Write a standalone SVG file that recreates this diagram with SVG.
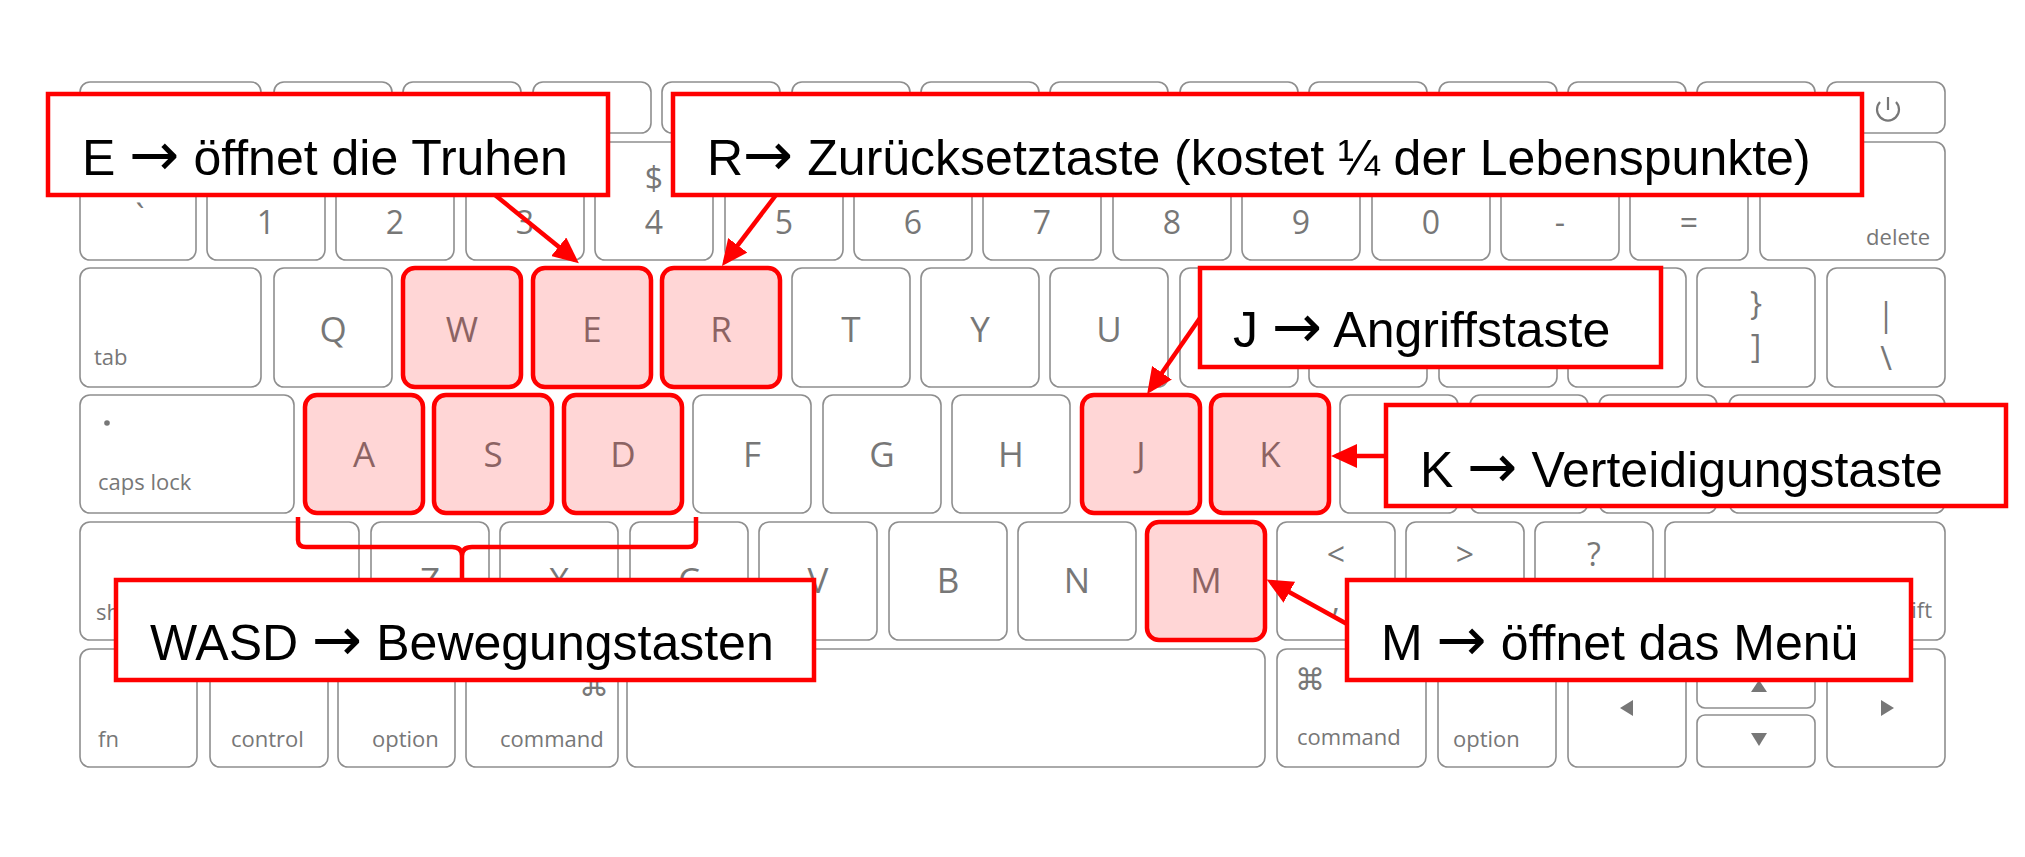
<svg xmlns="http://www.w3.org/2000/svg" width="2025" height="857" viewBox="0 0 2025 857">
<defs>
<style>
.k{fill:#fff;stroke:#8e8e8e;stroke-width:1.6}
.h{fill:#ff0000;fill-opacity:0.16;stroke:#ff0000;stroke-width:4.5}
.l{font-family:"Open Sans","Noto Sans",sans-serif;font-size:35px;fill:#777;text-anchor:middle}
.d{font-family:"Open Sans","Noto Sans",sans-serif;font-size:32px;fill:#777;text-anchor:middle}
.s{font-family:"Open Sans","Noto Sans",sans-serif;font-size:22px;fill:#777}
.cmd{font-family:"DejaVu Sans",sans-serif;font-size:30px;fill:#777;text-anchor:middle}
.box{fill:#fff;stroke:#ff0000;stroke-width:4.5}
.t{font-family:"Liberation Sans",Arial,sans-serif;font-size:50px;fill:#000}
.ar{font-family:"DejaVu Sans",sans-serif;font-size:60px}
.c{fill:none;stroke:#ff0000;stroke-width:4.5}
.tri{fill:#777}
</style>
<marker id="ah" viewBox="0 0 26 24" refX="21" refY="12" markerWidth="26" markerHeight="24" markerUnits="userSpaceOnUse" orient="auto">
<path d="M0,0 L26,12 L0,24 z" fill="#ff0000"/>
</marker>
</defs>
<rect width="2025" height="857" fill="#fff"/>

<g id="keyboard">
<!-- function row -->
<rect class="k" x="80" y="82" width="181" height="51" rx="10"/>
<rect class="k" x="274" y="82" width="118" height="51" rx="10"/>
<rect class="k" x="403" y="82" width="118" height="51" rx="10"/>
<rect class="k" x="533" y="82" width="118" height="51" rx="10"/>
<rect class="k" x="662" y="82" width="118" height="51" rx="10"/>
<rect class="k" x="792" y="82" width="118" height="51" rx="10"/>
<rect class="k" x="921" y="82" width="118" height="51" rx="10"/>
<rect class="k" x="1050" y="82" width="118" height="51" rx="10"/>
<rect class="k" x="1180" y="82" width="118" height="51" rx="10"/>
<rect class="k" x="1309" y="82" width="118" height="51" rx="10"/>
<rect class="k" x="1439" y="82" width="118" height="51" rx="10"/>
<rect class="k" x="1568" y="82" width="118" height="51" rx="10"/>
<rect class="k" x="1697" y="82" width="118" height="51" rx="10"/>
<rect class="k" x="1827" y="82" width="118" height="51" rx="10"/>
<path d="M1880,102 A11,11 0 1,0 1896,102 M1888,97 L1888,110" fill="none" stroke="#777" stroke-width="2.2"/>

<!-- number row -->
<rect class="k" x="80" y="142" width="116" height="118" rx="10"/>
<rect class="k" x="207" y="142" width="118" height="118" rx="10"/>
<rect class="k" x="336" y="142" width="118" height="118" rx="10"/>
<rect class="k" x="466" y="142" width="118" height="118" rx="10"/>
<rect class="k" x="595" y="142" width="118" height="118" rx="10"/>
<rect class="k" x="725" y="142" width="118" height="118" rx="10"/>
<rect class="k" x="854" y="142" width="118" height="118" rx="10"/>
<rect class="k" x="983" y="142" width="118" height="118" rx="10"/>
<rect class="k" x="1113" y="142" width="118" height="118" rx="10"/>
<rect class="k" x="1242" y="142" width="118" height="118" rx="10"/>
<rect class="k" x="1372" y="142" width="118" height="118" rx="10"/>
<rect class="k" x="1501" y="142" width="118" height="118" rx="10"/>
<rect class="k" x="1630" y="142" width="118" height="118" rx="10"/>
<rect class="k" x="1760" y="142" width="185" height="118" rx="10"/>
<text class="d" x="140" y="228">`</text>
<text class="d" x="266" y="234">1</text>
<text class="d" x="395" y="234">2</text>
<text class="d" x="525" y="234">3</text>
<text class="d" x="654" y="190">$</text>
<text class="d" x="654" y="234">4</text>
<text class="d" x="784" y="234">5</text>
<text class="d" x="913" y="234">6</text>
<text class="d" x="1042" y="234">7</text>
<text class="d" x="1172" y="234">8</text>
<text class="d" x="1301" y="234">9</text>
<text class="d" x="1431" y="234">0</text>
<text class="d" x="1560" y="234">-</text>
<text class="d" x="1689" y="234">=</text>
<text class="s" x="1930" y="245" text-anchor="end">delete</text>

<!-- qwerty row -->
<rect class="k" x="80" y="268" width="181" height="119" rx="10"/>
<rect class="k" x="274" y="268" width="118" height="119" rx="10"/>
<rect class="k" x="403" y="268" width="118" height="119" rx="10"/>
<rect class="k" x="533" y="268" width="118" height="119" rx="10"/>
<rect class="k" x="662" y="268" width="118" height="119" rx="10"/>
<rect class="k" x="792" y="268" width="118" height="119" rx="10"/>
<rect class="k" x="921" y="268" width="118" height="119" rx="10"/>
<rect class="k" x="1050" y="268" width="118" height="119" rx="10"/>
<rect class="k" x="1180" y="268" width="118" height="119" rx="10"/>
<rect class="k" x="1309" y="268" width="118" height="119" rx="10"/>
<rect class="k" x="1439" y="268" width="118" height="119" rx="10"/>
<rect class="k" x="1568" y="268" width="118" height="119" rx="10"/>
<rect class="k" x="1697" y="268" width="118" height="119" rx="10"/>
<rect class="k" x="1827" y="268" width="118" height="119" rx="10"/>
<text class="s" x="94" y="365">tab</text>
<text class="l" x="333" y="342">Q</text>
<text class="l" x="462" y="342">W</text>
<text class="l" x="592" y="342">E</text>
<text class="l" x="721" y="342">R</text>
<text class="l" x="851" y="342">T</text>
<text class="l" x="980" y="342">Y</text>
<text class="l" x="1109" y="342">U</text>
<text class="d" x="1756" y="315">}</text>
<text class="d" x="1756" y="358">]</text>
<text class="d" x="1886" y="326">|</text>
<text class="d" x="1886" y="370">\</text>

<!-- asdf row -->
<rect class="k" x="80" y="395" width="214" height="118" rx="10"/>
<rect class="k" x="305" y="395" width="118" height="118" rx="10"/>
<rect class="k" x="434" y="395" width="118" height="118" rx="10"/>
<rect class="k" x="564" y="395" width="118" height="118" rx="10"/>
<rect class="k" x="693" y="395" width="118" height="118" rx="10"/>
<rect class="k" x="823" y="395" width="118" height="118" rx="10"/>
<rect class="k" x="952" y="395" width="118" height="118" rx="10"/>
<rect class="k" x="1082" y="395" width="118" height="118" rx="10"/>
<rect class="k" x="1211" y="395" width="118" height="118" rx="10"/>
<rect class="k" x="1340" y="395" width="118" height="118" rx="10"/>
<rect class="k" x="1470" y="395" width="118" height="118" rx="10"/>
<rect class="k" x="1599" y="395" width="118" height="118" rx="10"/>
<rect class="k" x="1729" y="395" width="216" height="118" rx="10"/>
<circle cx="107" cy="423" r="2.8" fill="#777"/>
<text class="s" x="98" y="490">caps lock</text>
<text class="l" x="364" y="467">A</text>
<text class="l" x="493" y="467">S</text>
<text class="l" x="623" y="467">D</text>
<text class="l" x="752" y="467">F</text>
<text class="l" x="882" y="467">G</text>
<text class="l" x="1011" y="467">H</text>
<text class="l" x="1141" y="467">J</text>
<text class="l" x="1270" y="467">K</text>

<!-- zxcv row -->
<rect class="k" x="80" y="522" width="279" height="118" rx="10"/>
<rect class="k" x="371" y="522" width="118" height="118" rx="10"/>
<rect class="k" x="500" y="522" width="118" height="118" rx="10"/>
<rect class="k" x="630" y="522" width="118" height="118" rx="10"/>
<rect class="k" x="759" y="522" width="118" height="118" rx="10"/>
<rect class="k" x="889" y="522" width="118" height="118" rx="10"/>
<rect class="k" x="1018" y="522" width="118" height="118" rx="10"/>
<rect class="k" x="1147" y="522" width="118" height="118" rx="10"/>
<rect class="k" x="1277" y="522" width="118" height="118" rx="10"/>
<rect class="k" x="1406" y="522" width="118" height="118" rx="10"/>
<rect class="k" x="1535" y="522" width="118" height="118" rx="10"/>
<rect class="k" x="1665" y="522" width="280" height="118" rx="10"/>
<text class="s" x="96" y="620">shift</text>
<text class="l" x="430" y="593">Z</text>
<text class="l" x="559" y="593">X</text>
<text class="l" x="689" y="593">C</text>
<text class="l" x="818" y="593">V</text>
<text class="l" x="948" y="593">B</text>
<text class="l" x="1077" y="593">N</text>
<text class="l" x="1206" y="593">M</text>
<text class="d" x="1336" y="566">&lt;</text>
<text class="d" x="1336" y="612">,</text>
<text class="d" x="1465" y="566">&gt;</text>
<text class="d" x="1594" y="566">?</text>
<text class="s" x="1932" y="618" text-anchor="end">shift</text>

<!-- bottom row -->
<rect class="k" x="80" y="649" width="117" height="118" rx="10"/>
<rect class="k" x="210" y="649" width="118" height="118" rx="10"/>
<rect class="k" x="338" y="649" width="117" height="118" rx="10"/>
<rect class="k" x="466" y="649" width="152" height="118" rx="10"/>
<rect class="k" x="627" y="649" width="638" height="118" rx="10"/>
<rect class="k" x="1277" y="649" width="149" height="118" rx="10"/>
<rect class="k" x="1438" y="649" width="118" height="118" rx="10"/>
<rect class="k" x="1568" y="649" width="118" height="118" rx="10"/>
<rect class="k" x="1697" y="649" width="118" height="59" rx="8"/>
<rect class="k" x="1697" y="715" width="118" height="52" rx="8"/>
<rect class="k" x="1827" y="649" width="118" height="118" rx="10"/>
<text class="s" x="98" y="747">fn</text>
<text class="s" x="231" y="747">control</text>
<text class="s" x="372" y="747">option</text>
<text class="cmd" x="594" y="696">⌘</text>
<text class="s" x="500" y="747">command</text>
<text class="cmd" x="1310" y="690">⌘</text>
<text class="s" x="1297" y="745">command</text>
<text class="s" x="1453" y="747">option</text>
<path class="tri" d="M1620,708 L1633,700 L1633,716 z"/>
<path class="tri" d="M1759,680 L1767,692 L1751,692 z"/>
<path class="tri" d="M1759,746 L1751,733 L1767,733 z"/>
<path class="tri" d="M1894,708 L1881,700 L1881,716 z"/>
</g>

<g id="key-W"><rect class="h" x="403" y="268" width="118" height="119" rx="12"/></g>
<g id="key-E"><rect class="h" x="533" y="268" width="118" height="119" rx="12"/></g>
<g id="key-R"><rect class="h" x="662" y="268" width="118" height="119" rx="12"/></g>
<g id="key-A"><rect class="h" x="305" y="395" width="118" height="118" rx="12"/></g>
<g id="key-S"><rect class="h" x="434" y="395" width="118" height="118" rx="12"/></g>
<g id="key-D"><rect class="h" x="564" y="395" width="118" height="118" rx="12"/></g>
<g id="key-J"><rect class="h" x="1082" y="395" width="118" height="118" rx="12"/></g>
<g id="key-K"><rect class="h" x="1211" y="395" width="118" height="118" rx="12"/></g>
<g id="key-M"><rect class="h" x="1147" y="522" width="118" height="118" rx="12"/></g>

<g id="connectors">
<line class="c" x1="495" y1="195" x2="575" y2="260" marker-end="url(#ah)"/>
<line class="c" x1="776" y1="195" x2="725" y2="262" marker-end="url(#ah)"/>
<line class="c" x1="1200" y1="318" x2="1150" y2="390" marker-end="url(#ah)"/>
<line class="c" x1="1386" y1="456" x2="1336" y2="456" marker-end="url(#ah)"/>
<line class="c" x1="1347" y1="624" x2="1271" y2="582" marker-end="url(#ah)"/>
<path class="c" d="M298,517 L298,540 Q298,547 306,547 L452,547 Q462,547 462,556 L462,580 M462,556 Q462,547 472,547 L688,547 Q696,547 696,540 L696,517" stroke-linejoin="round"/>
</g>

<g id="label-E">
<rect class="box" x="48" y="94" width="560" height="101"/>
<text class="t" x="82" y="175">E <tspan class="ar">→</tspan> öffnet die Truhen</text>
</g>
<g id="label-R">
<rect class="box" x="673" y="94" width="1189" height="101"/>
<text class="t" x="707" y="175">R<tspan class="ar">→</tspan> Zurücksetztaste (kostet ¼ der Lebenspunkte)</text>
</g>
<g id="label-J">
<rect class="box" x="1200" y="268" width="461" height="99"/>
<text class="t" x="1233" y="347">J <tspan class="ar">→</tspan> Angriffstaste</text>
</g>
<g id="label-K">
<rect class="box" x="1386" y="405" width="620" height="101"/>
<text class="t" x="1420" y="487">K <tspan class="ar">→</tspan> Verteidigungstaste</text>
</g>
<g id="label-WASD">
<rect class="box" x="116" y="580" width="698" height="100"/>
<text class="t" x="150" y="660">WASD <tspan class="ar">→</tspan> Bewegungstasten</text>
</g>
<g id="label-M">
<rect class="box" x="1347" y="580" width="564" height="100"/>
<text class="t" x="1381" y="660">M <tspan class="ar">→</tspan> öffnet das Menü</text>
</g>
</svg>
